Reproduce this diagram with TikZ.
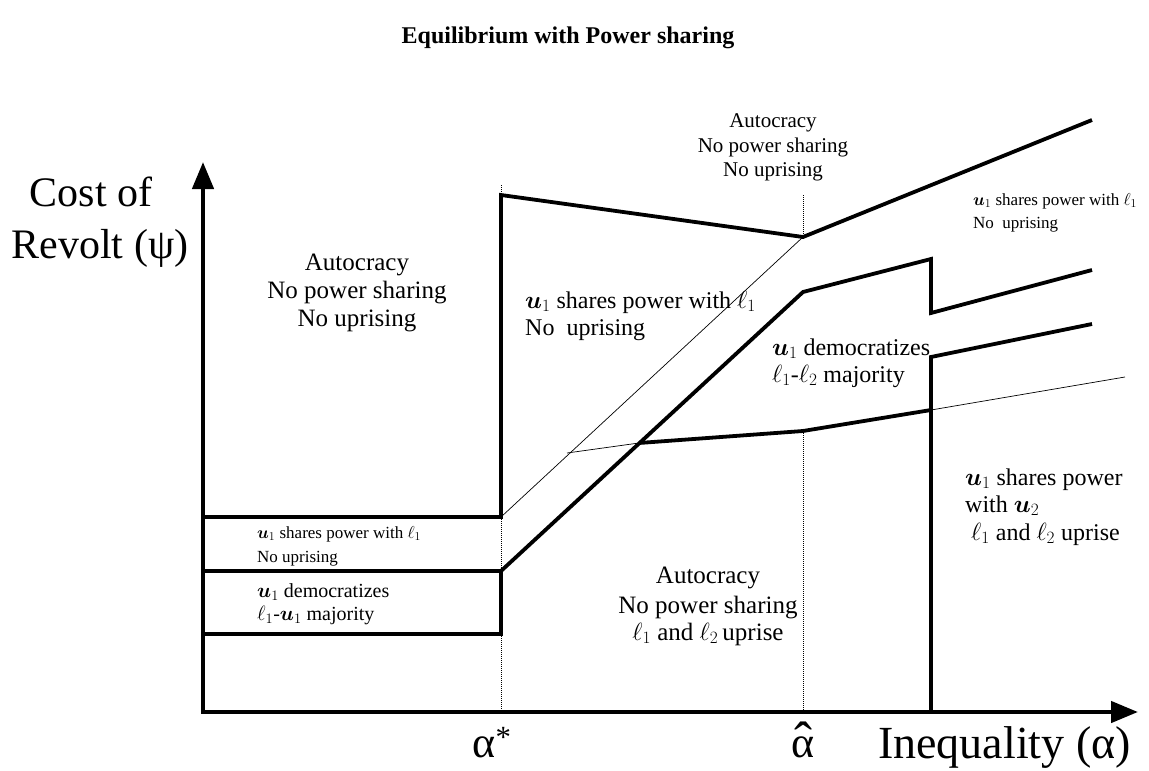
\documentclass[tikz,border=0pt]{standalone}
\usepackage{amsmath}
\usepackage{fontspec}
\setmainfont{Liberation Serif}
\usetikzlibrary{arrows.meta}
\newcommand{\uu}[1]{$\boldsymbol{u}_{#1}$}
\newcommand{\lo}[1]{$\ell_{#1}$}
\tikzset{
  boldline/.style={line width=3.8pt, line join=miter},
  hairline/.style={line width=0.7pt},
  guide/.style={line width=0.6pt, dash pattern=on 1pt off 1pt},
  axisline/.style={line width=4.5pt, {Triangle[length=27pt,width=21pt]}-{Triangle[length=27pt,width=21pt]}},
  txt/.style={inner sep=0pt, anchor=base west},
  ctxt/.style={inner sep=0pt, anchor=base},
}
\begin{document}
\begin{tikzpicture}[x=1pt,y=-1pt]
\useasboundingbox (0,0) rectangle (1149,771);
\fill[white] (0,0) rectangle (1149,771);
% key points
\coordinate (O) at (203,712);
\coordinate (Ytop) at (203,162);
\coordinate (Xend) at (1138,712);
\coordinate (As) at (501,517);
\coordinate (Am) at (501,571);
\coordinate (Al) at (501,634);
\coordinate (Atop) at (501,195);
\coordinate (Hk) at (803,237);
\coordinate (Hd) at (803,292);
\coordinate (Hl) at (803,431);
% guides
\draw[guide] (501,185) -- (Atop);
\draw[guide] (As) -- (Am);
\draw[guide] (Al) -- (501,712);
\draw[guide] (803,195) -- (Hk);
\draw[guide] (Hl) -- (803,712);
% thin lines
\draw[hairline] (As) -- (Hk);
\draw[hairline] (567,453) -- (639,443);
\draw[hairline] (931,410) -- (1125,377);
% thick lines
\draw[boldline] (203,517) -- (As) -- (Atop) -- (Hk) -- (1092,120);
\draw[boldline] (203,571) -- (Am) -- (Hd) -- (931,259) -- (931,313) -- (1092,270);
\draw[boldline] (203,634) -- (Al) -- (Am);
\draw[boldline] (639,443) -- (Hl) -- (931,410);
\draw[boldline] (931,712) -- (931,357) -- (1092,324);
% axes
\draw[axisline] (Ytop) -- (O) -- (Xend);
% title
\node[ctxt, font=\bfseries\fontsize{24}{28}\selectfont] (title) at (568,43) {Equilibrium with Power sharing};
% axis labels
\node[ctxt, font=\fontsize{42}{48}\selectfont] (yl1) at (91,206) {Cost of};
\node[ctxt, font=\fontsize{42}{48}\selectfont] (yl2) at (100,258) {Revolt (ψ)};
\node[ctxt, font=\fontsize{44}{50}\selectfont] (astar) at (492,757) {α\textsuperscript{*}};
\node[ctxt, font=\fontsize{44}{50}\selectfont] (ahat) at (803,757) {α};
\node[ctxt, font=\fontsize{54}{60}\selectfont] (hat) at (803,759) {\char"02C6};
\node[txt, font=\fontsize{46}{52}\selectfont] (xl) at (878,758) {Inequality (α)};
% region texts
\begin{scope}[font=\fontsize{25}{29}\selectfont]
\node[ctxt] (a1) at (357,270) {Autocracy};
\node[ctxt] (a2) at (357,298) {No power sharing};
\node[ctxt] (a3) at (357,326) {No uprising};
\node[ctxt] (b1) at (708,583) {Autocracy};
\node[ctxt] (b2) at (708,613) {No power sharing};
\node[ctxt] (b3) at (708,640) {\lo{1} and \lo{2}\,uprise};
\end{scope}
\begin{scope}[font=\fontsize{24}{28}\selectfont]
\node[txt] (m1) at (525,308) {\uu{1} shares power with \lo{1}};
\node[txt] (m2) at (525,335) {No\ \ uprising};
\node[txt] (d1) at (772,355) {\uu{1} democratizes};
\node[txt] (d2) at (772,382) {\lo{1}-\lo{2} majority};
\node[txt] (r1) at (965,485) {\uu{1} shares power};
\node[txt] (r2) at (965,512) {with \uu{2}};
\node[txt] (r3) at (965,540) {\ \lo{1} and \lo{2} uprise};
\end{scope}
\begin{scope}[font=\fontsize{21}{25}\selectfont]
\node[ctxt] (t1) at (773,127) {Autocracy};
\node[ctxt] (t2) at (773,152) {No power sharing};
\node[ctxt] (t3) at (773,176) {No uprising};
\end{scope}
\begin{scope}[font=\fontsize{17}{20}\selectfont]
\node[txt] (s1) at (973,205) {\uu{1} shares power with \lo{1}};
\node[txt] (s2) at (973,228) {No\ \ uprising};
\node[txt] (l1) at (257,538) {\uu{1} shares power with \lo{1}};
\node[txt] (l2) at (257,562) {No uprising};
\end{scope}
\begin{scope}[font=\fontsize{20}{24}\selectfont]
\node[txt] (e1) at (257,597) {\uu{1} democratizes};
\node[txt] (e2) at (257,620) {\lo{1}-\uu{1} majority};
\end{scope}
\end{tikzpicture}
\end{document}
